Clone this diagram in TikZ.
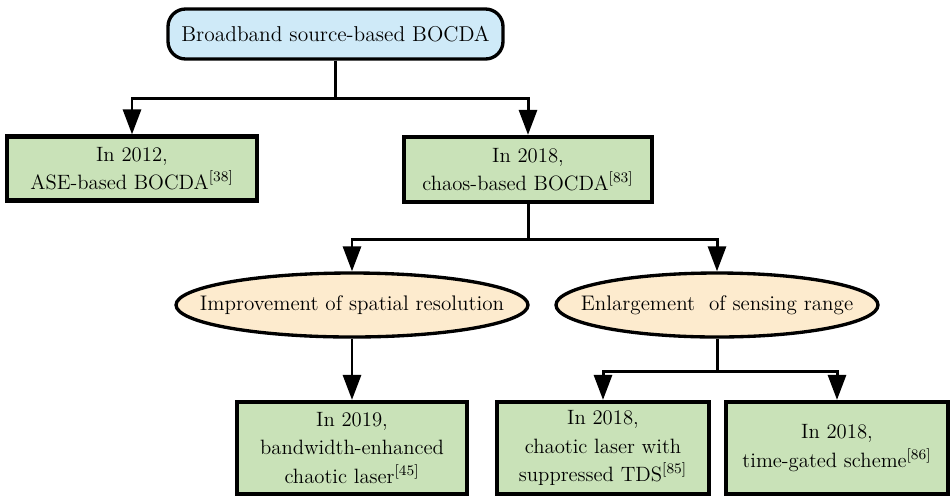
\documentclass[tikz,border=0pt]{standalone}
\usepackage{tikz}
\usetikzlibrary{arrows.meta, shapes.geometric}
\definecolor{rootblue}{HTML}{CFEAF8}
\definecolor{boxgreen}{HTML}{C9E2B8}
\definecolor{ellorange}{HTML}{FDEBCE}

\begin{document}
\begin{tikzpicture}[
    root/.style={
        draw, line width=1.9pt, rounded corners=10pt, fill=rootblue,
        minimum width=6.7cm, minimum height=1.0cm,
        font=\fontsize{12.2}{15}\selectfont, align=center
    },
    work/.style={
        draw, line width=2.4pt, fill=boxgreen,
        minimum height=1.28cm, inner sep=2pt,
        font=\fontsize{11.8}{16}\selectfont, align=center
    },
    aim/.style={
        draw, ellipse, line width=1.9pt, fill=ellorange,
        minimum height=1.28cm, inner xsep=-0.6cm, inner ysep=0pt,
        font=\fontsize{12}{14}\selectfont, align=center
    },
    arr/.style={-{Triangle[length=0.5cm,width=0.36cm]}, line width=1.7pt}
]
    \useasboundingbox (0,0) rectangle (19,-9.92);

    % Top: broadband source
    \node[root] (root) at (6.71,-0.68) {Broadband source-based BOCDA};

    % First level
    \node[work, minimum width=5.0cm] (ase) at (2.64,-3.37)
        {In 2012,\\ASE-based BOCDA\textsuperscript{[38]}};
    \node[work, minimum width=4.96cm, minimum height=1.3cm] (chaos) at (10.56,-3.39)
        {In 2018,\\chaos-based BOCDA\textsuperscript{[83]}};

    \draw[arr] (root.south) -- ++(0,-0.76) -| (ase.north);
    \draw[arr] (root.south) -- ++(0,-0.76) -| (chaos.north);

    % Two directions
    \node[aim, minimum width=7.04cm] (spatial) at (7.04,-6.10)
        {Improvement of spatial resolution};
    \node[aim, minimum width=6.44cm] (range) at (14.34,-6.10)
        {Enlargement\ \ of sensing range};

    \draw[arr] (chaos.south) -- ++(0,-0.70) -| (spatial.north);
    \draw[arr] (chaos.south) -- ++(0,-0.70) -| (range.north);

    % Bottom level
    \node[work, minimum width=4.6cm, minimum height=1.84cm] (bw) at (7.04,-8.96)
        {In 2019,\\bandwidth-enhanced\\chaotic laser\textsuperscript{[45]}};
    \node[work, minimum width=4.24cm, minimum height=1.84cm] (tds) at (12.06,-8.96)
        {In 2018,\\chaotic laser with\\suppressed TDS\textsuperscript{[85]}};
    \node[work, minimum width=4.44cm, minimum height=1.84cm] (gated) at (16.74,-8.96)
        {In 2018,\\time-gated scheme\textsuperscript{[86]}};

    \draw[arr] (spatial.south) -- (bw.north);
    \draw[arr] (range.south) -- ++(0,-0.66) -| (tds.north);
    \draw[arr] (range.south) -- ++(0,-0.66) -| (gated.north);
\end{tikzpicture}
\end{document}
